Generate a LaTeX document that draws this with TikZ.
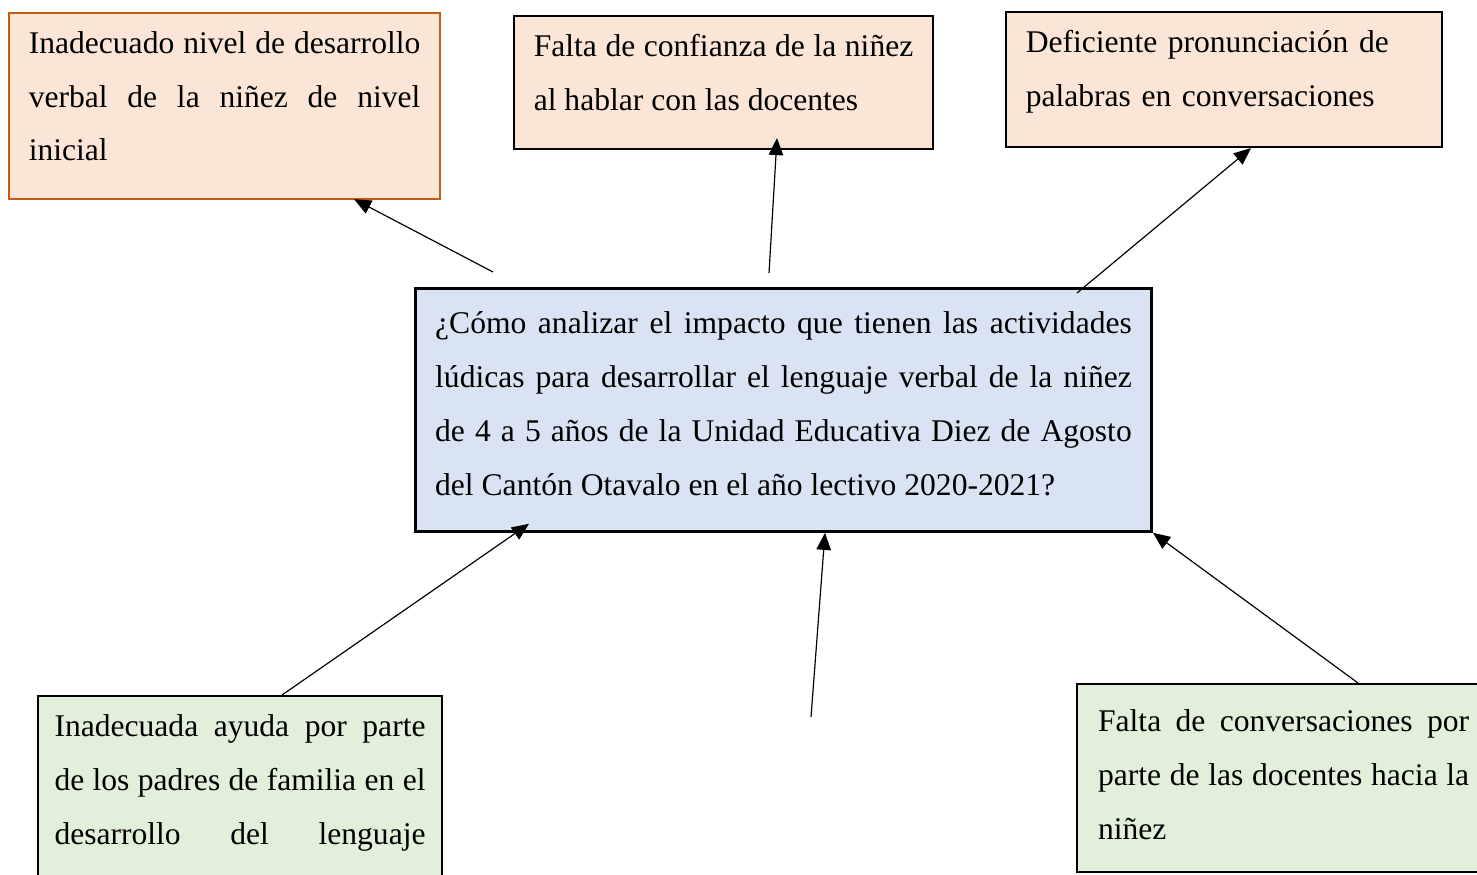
\documentclass[tikz,border=0pt]{standalone}
\usepackage{fontspec}
\setmainfont{Liberation Serif}
\usetikzlibrary{arrows.meta,calc}
\definecolor{naranja}{HTML}{FBE5D6}
\definecolor{bordenar}{HTML}{C55A11}
\definecolor{azul}{HTML}{DAE3F3}
\definecolor{verde}{HTML}{E2EFDA}
\hyphenpenalty=10000
\exhyphenpenalty=10000
\newcommand\relleno[1]{\par\kern#1}

\begin{document}
\begin{tikzpicture}[x=0.38pt,y=-0.38pt,
  caja/.style={draw,line width=0.8pt,anchor=north west,inner xsep=7.5pt,inner ysep=0pt,align=justify,font=\fontsize{12pt}{20.5pt}\selectfont},
  flecha/.style={line width=0.45pt,-{Triangle[length=6.5pt,width=5.5pt]}}]

\useasboundingbox (0,0) rectangle (1477,875);
\clip (0,0) rectangle (1477,875);

\node[caja,fill=naranja,draw=bordenar,minimum width=163.8pt,minimum height=70.7pt,text width=148.8pt] (e1) at (8,12)
  {Inadecuado nivel de desarrollo\linebreak verbal de la niñez de nivel\linebreak inicial\relleno{7.5pt}};
\node[caja,fill=naranja,minimum width=159.2pt,minimum height=50.5pt,text width=144.2pt] (e2) at (513,15)
  {Falta de confianza de la niñez\linebreak al hablar con las docentes\relleno{7.8pt}};
\node[caja,fill=naranja,align=left,minimum width=165.7pt,minimum height=51.3pt,text width=150.7pt] (e3) at (1005,11)
  {Deficiente pronunciación de\\palabras en conversaciones\relleno{6pt}};

\node[caja,fill=azul,line width=1.1pt,minimum width=279.7pt,minimum height=92.3pt,text width=264.7pt] (pr) at (414,287)
  {¿Cómo analizar el impacto que tienen las actividades\linebreak lúdicas para desarrollar el lenguaje verbal de la niñez\linebreak de 4 a 5 años de la Unidad Educativa Diez de Agosto\linebreak del Cantón Otavalo en el año lectivo 2020-2021?\relleno{4.9pt}};

\node[caja,fill=verde,inner xsep=6.25pt,minimum width=153.5pt,minimum height=95pt,text width=141pt] (c1) at (37,695)
  {\parfillskip=0pt Inadecuada ayuda por parte\linebreak de los padres de familia en el\linebreak desarrollo del lenguaje\relleno{29.2pt}};
\node[caja,fill=verde,inner xsep=8pt,minimum width=157pt,minimum height=71.4pt,text width=141pt] (c3) at (1076,683)
  {Falta de conversaciones por\linebreak parte de las docentes hacia la\linebreak niñez\relleno{2.8pt}};

\coordinate (a1) at (493,272);
\coordinate (a2) at (769,273);
\coordinate (a3) at (1077,293);
\coordinate (a4) at ($(c1.north west)+(245,0)$);
\coordinate (a5) at (811,717);
\coordinate (a6) at ($(c3.north west)+(282,0)$);

\coordinate (b1) at ($(e1.south west)+(346,-1)$);
\coordinate (b2) at ($(e2.south west)+(264,-12)$);
\coordinate (b3) at ($(e3.south west)+(246,0)$);
\coordinate (b4) at ($(pr.south west)+(115,-9)$);
\coordinate (b5) at ($(pr.south west)+(411,0)$);
\coordinate (b6) at (pr.south east);

\foreach \a/\b in {a1/b1,a2/b2,a3/b3,a4/b4,a5/b5,a6/b6}
  \draw[flecha] (\a) -- (\b);

\end{tikzpicture}
\end{document}
